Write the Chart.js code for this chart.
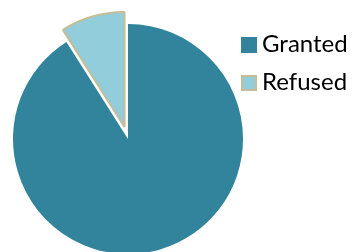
<!DOCTYPE html>
<html>
<head>
<meta charset="utf-8">
<script src="https://cdn.jsdelivr.net/npm/chart.js@4.4.0/dist/chart.umd.min.js"></script>
<style>
html,body{margin:0;padding:0;background:#fff;overflow:hidden;}
#wrap{position:relative;width:353px;height:252px;}
#c{position:absolute;left:0;top:0;}
.lg-box{position:absolute;box-sizing:border-box;width:16px;height:16px;}
.lg-text{position:absolute;font-family:Lato,sans-serif;font-size:24px;line-height:24px;color:#000;white-space:nowrap;}
</style>
</head>
<body>
<div id="wrap"><canvas id="c" width="353" height="252"></canvas><div id="legend"></div></div>
<script>
const categories = ["Granted", "Refused"];
const values = [91, 9];
const fillColors = ["#31849B", "#92CDDC"];
const edgeColors = ["#FFFFFF", "#C4BD97"];
const edgeWidths = [0, 2];
const explode = [0, 12.5];

// exploded slice: shift arc element along its mid angle
const explodePlugin = {
  id: 'explode',
  afterDatasetUpdate(chart, args) {
    const meta = args.meta;
    meta.data.forEach((el, i) => {
      const d = explode[i] || 0;
      if (!d) return;
      const mid = (el.startAngle + el.endAngle) / 2;
      el.x += Math.cos(mid) * d;
      el.y += Math.sin(mid) * d;
    });
  }
};

new Chart(document.getElementById('c'), {
  type: 'pie',
  data: {
    labels: categories,
    datasets: [{
      data: values,
      backgroundColor: fillColors,
      borderColor: edgeColors,
      borderWidth: edgeWidths,
      radius: 115,
      clip: false
    }]
  },
  options: {
    responsive: false,
    animation: false,
    events: [],
    layout: { padding: { left: 0, top: 26, right: 97, bottom: 0 } },
    plugins: {
      tooltip: { enabled: false },
      legend: { display: false }
    }
  },
  plugins: [explodePlugin]
});

// HTML legend built from the same arrays
const legend = document.getElementById('legend');
const rowTops = [37, 75];
categories.forEach((name, i) => {
  const box = document.createElement('div');
  box.className = 'lg-box';
  box.style.left = '241px';
  box.style.top = rowTops[i] + 'px';
  box.style.background = fillColors[i];
  if (edgeWidths[i]) box.style.border = '2px solid ' + edgeColors[i];
  legend.appendChild(box);
  const t = document.createElement('div');
  t.className = 'lg-text';
  t.style.left = '262px';
  t.style.top = (rowTops[i] - 6) + 'px';
  t.textContent = name;
  legend.appendChild(t);
});
</script>
</body>
</html>
